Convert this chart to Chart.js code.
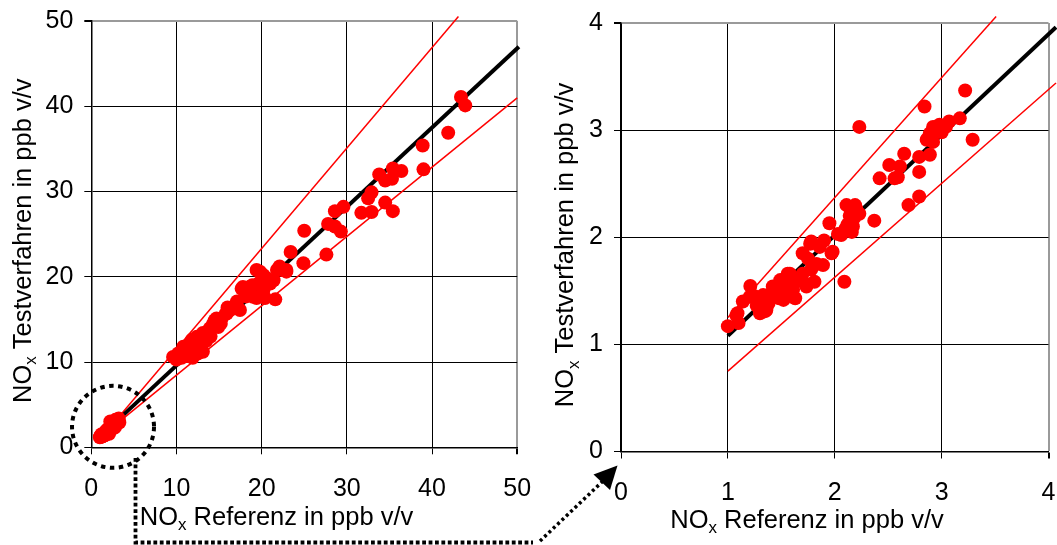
<!DOCTYPE html>
<html><head><meta charset="utf-8">
<script src="https://cdn.jsdelivr.net/npm/chart.js@4/dist/chart.umd.min.js"></script>
<style>
html,body{margin:0;padding:0;background:#fff;}
#wrap{position:relative;width:1057px;height:545px;overflow:hidden;background:#fff;}
#cL{position:absolute;left:0;top:0;width:540px;height:545px;}
#cR{position:absolute;left:540px;top:0;width:517px;height:545px;}
#ov{position:absolute;left:0;top:0;width:1057px;height:545px;pointer-events:none;}
</style></head><body>
<div id="wrap">
<canvas id="cL" width="540" height="545"></canvas>
<canvas id="cR" width="517" height="545"></canvas>
<canvas id="ov" width="1057" height="545"></canvas>
</div>
<script>
// ---- data: low range (shown in both charts) ----
const lowRef  = [1.00,1.10,1.09,1.14,1.21,1.205,1.27,1.30,1.36,1.33,1.42,1.49,1.52,1.56,1.61,1.63,1.55,1.455,1.70,1.735,1.81,1.89,1.70,1.78,1.86,1.97,1.95,2.06,2.09,2.11,2.19,2.14,2.17,2.23,2.23,2.37,2.42,2.51,2.56,2.61,2.65,2.69,2.79,2.79,2.79,2.89,2.84,2.89,2.92,2.98,3.04,3.07,2.965,3.17,3.22,3.29,2.86,2.59,2.87,2.92,2.95,3.00,
  1.38,1.45,1.50,1.53,1.58,1.60,1.65,1.30,1.25,1.33,1.72,1.78,1.83,1.90,2.12,2.15,2.18,2.10,2.03,1.40,1.48,1.75,2.20,2.16,1.27,1.35,1.08,1.58,1.77,1.98];
const lowTest = [1.17,1.20,1.29,1.40,1.545,1.445,1.415,1.29,1.32,1.46,1.54,1.60,1.415,1.66,1.51,1.43,1.51,1.48,1.66,1.54,1.585,1.74,1.85,1.96,1.91,1.85,2.13,2.02,1.585,2.30,2.30,2.20,2.10,2.22,3.03,2.155,2.55,2.675,2.55,2.66,2.78,2.30,2.38,2.61,2.75,2.77,3.22,2.97,3.03,3.05,3.03,3.08,3.00,3.11,3.37,2.91,2.91,2.56,2.92,2.89,3.03,2.98,
  1.38,1.52,1.55,1.49,1.58,1.47,1.60,1.36,1.45,1.40,1.57,1.70,1.75,1.97,2.12,2.25,2.18,2.08,2.03,1.47,1.43,1.80,2.27,2.05,1.36,1.31,1.27,1.66,1.94,1.865];
// ---- data: higher range (left chart only) ----
const highRef  = [43.4,43.9,41.9,38.9,39.0,33.8,34.5,35.4,36.4,35.3,32.9,32.5,31.7,32.9,34.5,35.4,29.6,28.6,25.0,27.8,28.6,29.3,27.6,23.4,24.9,22.9,22.1,22.9,22.4,20.2,19.4,18.6,17.65,19.0,20.4,21.4,16.7,15.9,14.7,14.3,17.45,19.8,21.8,21.0,17.8,18.6,19.4,21.6,20.2,17.1,16.3,15.8,14.5,14.9,13.9,13.1,12.4,11.8,13.1,12.4,10.8,10.2,9.6,11.3,12.8,12.0,15.3,17.1,18.2,11.9,10.0,10.6,12.5,20.0,19.6,18.9,20.5,16.0,15.2,14.0,13.5];
const highTest = [41.1,40.1,36.9,35.4,32.6,32.0,31.3,32.7,32.4,31.5,29.9,29.2,27.5,27.6,28.7,27.7,28.2,27.7,25.4,26.2,25.9,25.3,22.6,22.9,21.6,20.8,21.2,20.6,20.8,20.2,20.8,18.8,18.6,17.65,17.5,19.6,16.5,15.7,15.1,14.5,16.1,20.6,20.8,19.2,18.8,18.05,17.5,17.35,18.4,16.5,16.1,15.7,14.9,14.1,13.95,13.4,12.97,12.6,11.2,11.8,11.8,11.0,10.6,10.7,12.4,11.4,15.1,17.1,17.7,10.5,10.3,10.5,11.0,19.5,19.2,19.0,19.9,16.4,14.5,13.0,12.5];
// ---- regression / tolerance lines (end points) ----
const leftFitX   = [2.5, 50.2],  leftFitY   = [2.63, 46.99];
const leftUpX    = [3.2, 43.1],  leftUpY    = [3.52, 50.52];
const leftLowX   = [3.4, 50.0],  leftLowY   = [3.09, 40.98];
const rightFitX  = [1.0, 4.07],  rightFitY  = [1.08, 3.96];
const rightUpX   = [1.0, 3.51],  rightUpY   = [1.25, 4.06];
const rightLowX  = [1.0, 4.07],  rightLowY  = [0.75, 3.44];
// ---- ticks ----
const leftTicks  = [0,10,20,30,40,50];
const rightTicks = [0,1,2,3,4];
const xTitle = ['NO','x',' Referenz in ppb v/v'];
const yTitle = ['NO','x',' Testverfahren in ppb v/v'];

const FONT = '"Liberation Sans", Arial, sans-serif';
const pts = (xs, ys) => xs.map((x,i)=>({x:x, y:ys[i]}));

function axis(ticks, pad, fitFn){
  const max = ticks[ticks.length-1];
  return {
    type:'linear', min:ticks[0], max:max,
    afterBuildTicks: s => { s.ticks = ticks.map(v=>({value:v})); },
    afterFit: s => { fitFn(s); s.paddingLeft = 0; s.paddingRight = 0; s.paddingTop = 0; s.paddingBottom = 0; },
    ticks:{color:'#000', font:{family:FONT, size:25}, padding:pad, autoSkip:false, maxRotation:0},
    grid:{
      color: c => (c.tick && c.tick.value===max) ? '#9a9a9a' : '#000',
      lineWidth: c => (c.tick && c.tick.value===max) ? 2 : 1,
      tickColor:'#000', tickLength:7, drawTicks:true
    },
    border:{color:'#000', width:1.5},
    title:{display:false}
  };
}

function drawSub(ctx, x, y, rot, parts, size){
  ctx.save();
  ctx.translate(x,y); ctx.rotate(rot);
  const sub = Math.round(size*0.66);
  ctx.font = size+'px '+FONT; const w1 = ctx.measureText(parts[0]).width;
  ctx.font = sub+'px '+FONT;  const w2 = ctx.measureText(parts[1]).width;
  ctx.font = size+'px '+FONT; const w3 = ctx.measureText(parts[2]).width;
  let cx = -(w1+w2+w3)/2;
  ctx.fillStyle='#000'; ctx.textAlign='left'; ctx.textBaseline='alphabetic';
  ctx.fillText(parts[0], cx, 0); cx += w1;
  ctx.font = sub+'px '+FONT; ctx.fillText(parts[1], cx, size*0.2); cx += w2;
  ctx.font = size+'px '+FONT; ctx.fillText(parts[2], cx, 0);
  ctx.restore();
}

function titlesPlugin(xt, yt){
  return { id:'titles', afterDraw(chart){
    const ctx = chart.ctx;
    drawSub(ctx, xt[0], xt[1], 0, xTitle, 25.5);
    drawSub(ctx, yt[0], yt[1], -Math.PI/2, yTitle, 25.5);
  }};
}

function lineDs(xs, ys, color, w){
  return {type:'line', data:pts(xs,ys), borderColor:color, borderWidth:w, pointRadius:0,
          showLine:true, fill:false, clip:false, order:2, tension:0};
}

const common = {
  responsive:false, animation:false, devicePixelRatio:1,
  plugins:{legend:{display:false}, tooltip:{enabled:false}},
  events:[]
};

const leftChart = new Chart(document.getElementById('cL'), {
  type:'scatter',
  data:{datasets:[
    {data:pts(lowRef,lowTest).concat(pts(highRef,highTest)), backgroundColor:'#ff0000', borderWidth:0, pointRadius:7, order:0},
    lineDs(leftFitX,leftFitY,'#000',4),
    lineDs(leftUpX,leftUpY,'#ff0000',1.5),
    lineDs(leftLowX,leftLowY,'#ff0000',1.5)
  ]},
  options:Object.assign({}, common, {
    layout:{padding:{left:0, top:21, right:22.8, bottom:0}},
    scales:{
      x: axis(leftTicks, 20, s=>{ s.height = 545-447.3; }),
      y: axis(leftTicks, 11, s=>{ s.width = 91.3; })
    }
  }),
  plugins:[titlesPlugin([276.5,525],[31,240.7])]
});

const rightChart = new Chart(document.getElementById('cR'), {
  type:'scatter',
  data:{datasets:[
    {data:pts(lowRef,lowTest), backgroundColor:'#ff0000', borderWidth:0, pointRadius:7, order:0},
    lineDs(rightFitX,rightFitY,'#000',4),
    lineDs(rightUpX,rightUpY,'#ff0000',1.5),
    lineDs(rightLowX,rightLowY,'#ff0000',1.5)
  ]},
  options:Object.assign({}, common, {
    layout:{padding:{left:0, top:23, right:8.5, bottom:0}},
    scales:{
      x: axis(rightTicks, 20, s=>{ s.height = 545-451.5; }),
      y: axis(rightTicks, 11, s=>{ s.width = 81; })
    }
  }),
  plugins:[titlesPlugin([267,528],[33.4,245])]
});

// ---- overlay: dashed circle and dotted arrow ----
(function(){
  const ov = document.getElementById('ov').getContext('2d');
  const cx = leftChart.scales.x.getPixelForValue(2.55);
  const cy = leftChart.scales.y.getPixelForValue(2.4);
  ov.strokeStyle='#000'; ov.lineCap='butt';
  ov.lineWidth=4; ov.setLineDash([4.5,4.5]);
  ov.beginPath(); ov.arc(cx, cy, 41, 0, Math.PI*2); ov.stroke();
  ov.lineWidth=3.8; ov.setLineDash([3.8,2.6]);
  ov.beginPath(); ov.moveTo(135.5, 458); ov.lineTo(135.5, 542.5); ov.lineTo(533, 542.5); ov.stroke();
  ov.lineWidth=3.5; ov.setLineDash([3,3]);
  ov.beginPath(); ov.moveTo(540, 541); ov.lineTo(603, 481); ov.stroke();
  ov.setLineDash([]);
  const ox = rightChart.scales.x.getPixelForValue(0)+540;
  const oy = rightChart.scales.y.getPixelForValue(0);
  ov.fillStyle='#000';
  ov.beginPath();
  ov.moveTo(ox-3.5, oy+14); ov.lineTo(ox-27.5, oy+23); ov.lineTo(ox-11, oy+38.5); ov.closePath(); ov.fill();
})();
</script>
</body></html>
